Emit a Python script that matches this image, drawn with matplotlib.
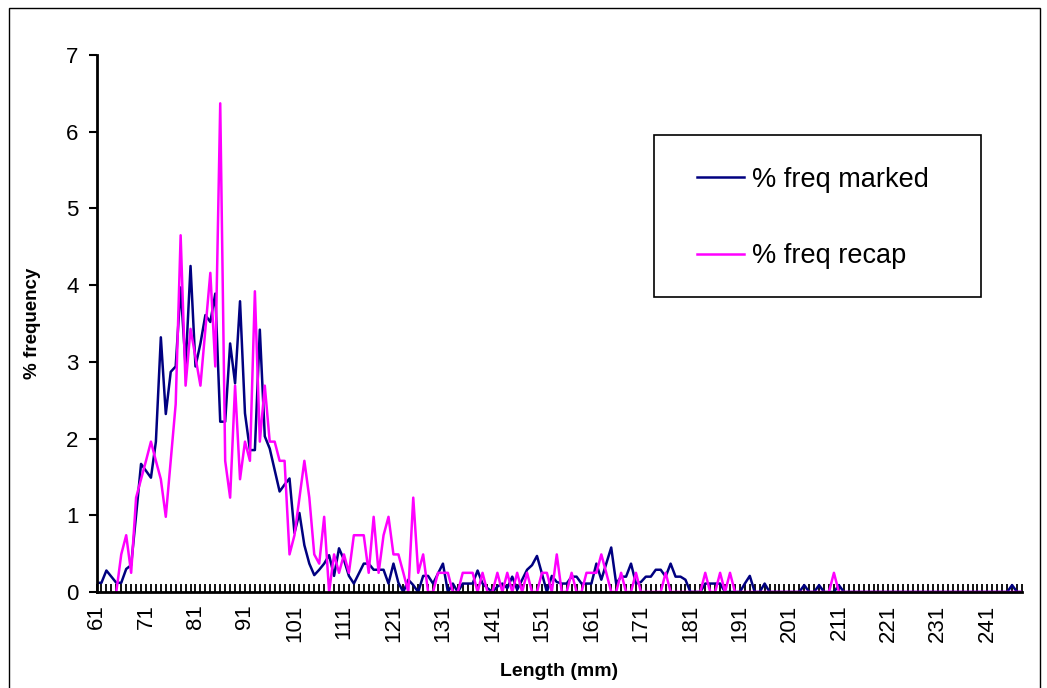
import numpy as np
import matplotlib
matplotlib.use("Agg")
import matplotlib.pyplot as plt
from matplotlib.patches import Rectangle

plt.rcParams['font.family'] = ['Liberation Sans', 'DejaVu Sans']

# length classes (mm), one category per mm
lengths = np.arange(61, 249)

# % frequency of marked fish, 61..248 mm
marked = [
    0.12, 0.12, 0.28, 0.20, 0.12, 0.12, 0.30, 0.35, 1.00, 1.67,   # 61-70
    1.58, 1.49, 1.96, 3.32, 2.32, 2.87, 2.94, 3.97, 2.94, 4.25,   # 71-80
    2.94, 3.24, 3.61, 3.52, 3.89, 2.22, 2.22, 3.24, 2.72, 3.79,   # 81-90
    2.33, 1.85, 1.85, 3.42, 2.03, 1.87, 1.59, 1.31, 1.40, 1.48,   # 91-100
    0.77, 1.03, 0.61, 0.37, 0.22, 0.29, 0.37, 0.48, 0.21, 0.57,   # 101-110
    0.42, 0.21, 0.11, 0.24, 0.37, 0.37, 0.29, 0.29, 0.29, 0.11,   # 111-120
    0.37, 0.12, 0.00, 0.16, 0.09, 0.00, 0.21, 0.21, 0.11, 0.24,   # 121-130
    0.37, 0.00, 0.11, 0.00, 0.11, 0.11, 0.11, 0.28, 0.11, 0.05,   # 131-140
    0.00, 0.07, 0.11, 0.05, 0.20, 0.03, 0.16, 0.29, 0.35, 0.47,   # 141-150
    0.24, 0.00, 0.21, 0.13, 0.11, 0.11, 0.20, 0.20, 0.11, 0.11,   # 151-160
    0.11, 0.37, 0.16, 0.37, 0.58, 0.11, 0.20, 0.20, 0.37, 0.11,   # 161-170
    0.13, 0.20, 0.20, 0.29, 0.29, 0.20, 0.37, 0.20, 0.20, 0.16,   # 171-180
    0.00, 0.00, 0.00, 0.11, 0.11, 0.11, 0.11, 0.00, 0.00, 0.00,   # 181-190
    0.00, 0.11, 0.21, 0.00, 0.00, 0.11, 0.00, 0.00, 0.00, 0.00,   # 191-200
    0.00, 0.00, 0.00, 0.09, 0.00, 0.00, 0.09, 0.00, 0.00, 0.00,   # 201-210
    0.09, 0.00, 0.00, 0.00, 0.00, 0.00, 0.00, 0.00, 0.00, 0.00,   # 211-220
    0.00, 0.00, 0.00, 0.00, 0.00, 0.00, 0.00, 0.00, 0.00, 0.00,   # 221-230
    0.00, 0.00, 0.00, 0.00, 0.00, 0.00, 0.00, 0.00, 0.00, 0.00,   # 231-240
    0.00, 0.00, 0.00, 0.00, 0.00, 0.09, 0.00, 0.00,               # 241-248
]

# % frequency of recaptured fish (no data below 65 mm)
recap = [
    np.nan, np.nan, np.nan, np.nan, 0.00, 0.49, 0.74, 0.25, 1.23, 1.47,   # 61-70
    1.71, 1.96, 1.71, 1.47, 0.98, 1.71, 2.45, 4.65, 2.69, 3.43,   # 71-80
    3.06, 2.69, 3.43, 4.16, 2.94, 6.37, 1.71, 1.23, 2.69, 1.47,   # 81-90
    1.96, 1.71, 3.92, 1.96, 2.69, 1.96, 1.96, 1.71, 1.71, 0.49,   # 91-100
    0.74, 1.23, 1.71, 1.23, 0.49, 0.37, 0.98, 0.00, 0.49, 0.25,   # 101-110
    0.49, 0.25, 0.74, 0.74, 0.74, 0.25, 0.98, 0.25, 0.74, 0.98,   # 111-120
    0.49, 0.49, 0.25, 0.00, 1.23, 0.25, 0.49, 0.00, 0.00, 0.25,   # 121-130
    0.25, 0.25, 0.00, 0.00, 0.25, 0.25, 0.25, 0.00, 0.25, 0.00,   # 131-140
    0.00, 0.25, 0.00, 0.25, 0.00, 0.25, 0.00, 0.25, 0.00, 0.00,   # 141-150
    0.25, 0.25, 0.00, 0.49, 0.00, 0.00, 0.25, 0.00, 0.00, 0.25,   # 151-160
    0.25, 0.25, 0.49, 0.25, 0.00, 0.00, 0.25, 0.00, 0.00, 0.25,   # 161-170
    0.00, 0.00, 0.00, 0.00, 0.00, 0.25, 0.00, 0.00, 0.00, 0.00,   # 171-180
    0.00, 0.00, 0.00, 0.25, 0.00, 0.00, 0.25, 0.00, 0.25, 0.00,   # 181-190
    0.00, 0.00, 0.00, 0.00, 0.00, 0.00, 0.00, 0.00, 0.00, 0.00,   # 191-200
    0.00, 0.00, 0.00, 0.00, 0.00, 0.00, 0.00, 0.00, 0.00, 0.25,   # 201-210
    0.00, 0.00, 0.00, 0.00, 0.00, 0.00, 0.00, 0.00, 0.00, 0.00,   # 211-220
    0.00, 0.00, 0.00, 0.00, 0.00, 0.00, 0.00, 0.00, 0.00, 0.00,   # 221-230
    0.00, 0.00, 0.00, 0.00, 0.00, 0.00, 0.00, 0.00, 0.00, 0.00,   # 231-240
    0.00, 0.00, 0.00, 0.00, 0.00, 0.00, 0.00, 0.00,               # 241-248
]

W, H = 1047, 688
fig = plt.figure(figsize=(W / 100, H / 100), dpi=100)
ax = fig.add_axes([96.5 / W, 1 - 592 / H, (1022 - 96.5) / W, (592 - 55) / H])

ax.plot(lengths, marked, color='#000080', lw=1.8, label='% freq marked', zorder=2)
ax.plot(lengths, recap, color='#ff00ff', lw=1.8, label='% freq recap', zorder=2)

ax.set_xlim(61, 248)
ax.set_ylim(0, 7)

# every category gets a tick, only every 10th a label
ax.set_xticks(lengths)
ax.set_xticklabels([str(v) if (v - 61) % 10 == 0 else '' for v in lengths],
                   rotation=90, fontsize=16)
ax.tick_params(axis='x', direction='in', length=6, width=1.3, pad=9)
ax.set_yticks(range(0, 8))
ax.tick_params(axis='y', direction='out', length=6, width=1.5, labelsize=16, pad=7)

for s in ['top', 'right']:
    ax.spines[s].set_visible(False)
for s in ['left', 'bottom']:
    ax.spines[s].set_linewidth(2)
    ax.spines[s].set_zorder(3)

ax.set_xlabel('Length (mm)', fontsize=14, fontweight='bold', labelpad=15)
ax.set_ylabel('% frequency', fontsize=13.5, fontweight='bold', labelpad=18)

# legend entries without frame, box drawn separately
leg = ax.legend(loc='center left', bbox_to_anchor=(697 / W, 1 - 218 / H),
                bbox_transform=fig.transFigure, fontsize=19.5, frameon=False,
                handlelength=1.75, handletextpad=0.28, labelspacing=1.86,
                borderpad=0, borderaxespad=0)
fig.patches.append(Rectangle((654 / W, 1 - 297 / H), (981 - 654) / W, (297 - 135) / H,
                             transform=fig.transFigure, fill=False,
                             edgecolor='black', lw=1.2, zorder=1))

# outer chart border
fig.patches.append(Rectangle((9 / W, -0.01), (1040 - 9) / W, (688 - 8) / H + 0.01,
                             transform=fig.transFigure, fill=False,
                             edgecolor='black', lw=1))

plt.savefig('out.png', dpi=100)
plt.close()
